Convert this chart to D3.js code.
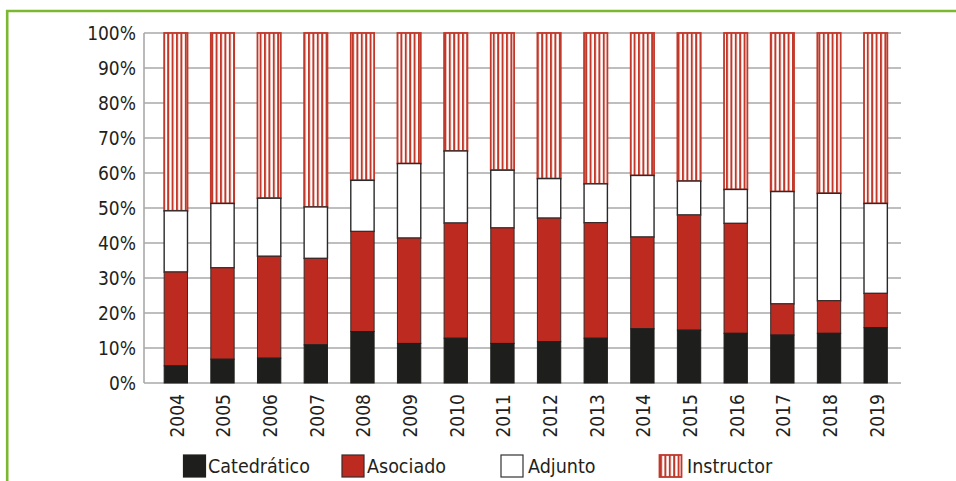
<!DOCTYPE html>
<html>
<head>
<meta charset="utf-8">
<script src="https://cdn.jsdelivr.net/npm/d3@7/dist/d3.min.js"></script>
<style>
  html, body { margin: 0; padding: 0; background: #fff; }
  svg { display: block; }
  text { font-family: "DejaVu Sans Condensed", "DejaVu Sans", sans-serif; fill: #231f20; }
</style>
</head>
<body>
<svg id="chart" width="956" height="481"></svg>
<script>
// Share of teaching staff by rank, per year (percent)
const years = ["2004","2005","2006","2007","2008","2009","2010","2011",
               "2012","2013","2014","2015","2016","2017","2018","2019"];
const catedratico = [4.9, 6.8, 7.1, 10.9, 14.7, 11.3, 12.8, 11.3, 11.8, 12.8, 15.5, 15.1, 14.2, 13.7, 14.2, 15.8];
const asociado    = [26.8, 26.1, 29.1, 24.7, 28.6, 30.1, 32.9, 33.0, 35.3, 33.0, 26.2, 32.9, 31.4, 8.9, 9.3, 9.8];
const adjunto     = [17.5, 18.4, 16.6, 14.7, 14.6, 21.3, 20.6, 16.5, 11.3, 11.1, 17.6, 9.7, 9.7, 32.1, 30.7, 25.7];
const instructor  = [50.8, 48.7, 47.2, 49.7, 42.1, 37.3, 33.7, 39.2, 41.6, 43.1, 40.7, 42.3, 44.7, 45.3, 45.8, 48.7];
const seriesNames = ["Catedrático", "Asociado", "Adjunto", "Instructor"];
const yTicks = [0, 10, 20, 30, 40, 50, 60, 70, 80, 90, 100];

const table = years.map((y, i) => ({
  year: y,
  "Catedrático": catedratico[i],
  "Asociado": asociado[i],
  "Adjunto": adjunto[i],
  "Instructor": instructor[i]
}));

const svg = d3.select("#chart");
const defs = svg.append("defs");

// vertical red stripes for the "Instructor" segment
const pat = defs.append("pattern")
  .attr("id", "stripes")
  .attr("patternUnits", "userSpaceOnUse")
  .attr("width", 4.4).attr("height", 10);
pat.append("rect").attr("width", 4.4).attr("height", 10).attr("fill", "#fff");
pat.append("rect").attr("x", 0).attr("width", 1.8).attr("height", 10).attr("fill", "#c0392b");
pat.append("rect").attr("x", 1.8).attr("width", 0.6).attr("height", 10).attr("fill", "#eab3ad");

// green frame on the top and left
svg.append("line").attr("x1", 6).attr("x2", 956).attr("y1", 11).attr("y2", 11)
  .attr("stroke", "#7cb82f").attr("stroke-width", 2.6);
svg.append("line").attr("x1", 7.2).attr("x2", 7.2).attr("y1", 10).attr("y2", 481)
  .attr("stroke", "#7cb82f").attr("stroke-width", 2.6);

const x = d3.scaleBand().domain(years).range([152.5, 899]).paddingInner(0.5).paddingOuter(0.25);
const y = d3.scaleLinear().domain([0, 100]).range([383, 33]);

// gridlines + y axis labels
const yAxis = d3.axisLeft(y).tickValues(yTicks).tickFormat(d => d + "%").tickSize(0).tickPadding(8);
const gY = svg.append("g").attr("transform", "translate(144,0)").call(yAxis);
gY.select(".domain").remove();
gY.selectAll("text").attr("font-size", 19).attr("font-family", "DejaVu Sans Condensed").attr("fill", "#231f20").attr("dy", "0.36em");

svg.append("g").selectAll("line").data(yTicks).join("line")
  .attr("x1", 144).attr("x2", 901)
  .attr("y1", d => y(d)).attr("y2", d => y(d))
  .attr("stroke", "#a9a9a9").attr("stroke-width", 1.6);
svg.append("line").attr("x1", 144).attr("x2", 144).attr("y1", y(100)).attr("y2", y(0))
  .attr("stroke", "#a9a9a9").attr("stroke-width", 1.6);

// stacked bars
const stack = d3.stack().keys(seriesNames)(table);
const fills = { "Catedrático": "#1e1e1c", "Asociado": "#bd2b20", "Adjunto": "#ffffff", "Instructor": "url(#stripes)" };
const strokes = { "Catedrático": "#1e1e1c", "Asociado": "#3a2a28", "Adjunto": "#2a2a2a", "Instructor": "#c0392b" };
const sw = { "Catedrático": 1, "Asociado": 1, "Adjunto": 1.4, "Instructor": 1.8 };

const drawOrder = ["Instructor", "Adjunto", "Asociado", "Catedrático"];
drawOrder.forEach(key => {
  const layer = stack.find(s => s.key === key);
  svg.append("g").selectAll("rect").data(layer).join("rect")
    .attr("x", d => x(d.data.year))
    .attr("width", x.bandwidth())
    .attr("y", d => y(d[1]))
    .attr("height", d => y(d[0]) - y(d[1]))
    .attr("fill", fills[key])
    .attr("stroke", strokes[key])
    .attr("stroke-width", sw[key]);
});

// x axis (rotated year labels)
const xAxis = d3.axisBottom(x).tickSize(0).tickPadding(0);
const gX = svg.append("g").attr("transform", "translate(0,383)").call(xAxis);
gX.select(".domain").remove();
gX.selectAll("text")
  .attr("font-size", 19).attr("font-family", "DejaVu Sans Condensed").attr("fill", "#231f20")
  .attr("transform", "rotate(-90)")
  .attr("text-anchor", "end")
  .attr("x", -11).attr("y", 1).attr("dy", "0.36em");

// legend
const legendItems = [
  { name: "Catedrático", sx: 183.5, tx: 208 },
  { name: "Asociado",    sx: 342,   tx: 367 },
  { name: "Adjunto",     sx: 501,   tx: 528 },
  { name: "Instructor",  sx: 659.5, tx: 687 }
];
const lg = svg.append("g");
legendItems.forEach(it => {
  lg.append("rect").attr("x", it.sx).attr("y", 455).attr("width", 22).attr("height", 22)
    .attr("fill", fills[it.name]).attr("stroke", it.name === "Adjunto" ? "#333" : strokes[it.name])
    .attr("stroke-width", it.name === "Instructor" ? 1.8 : 1.2);
  lg.append("text").attr("x", it.tx).attr("y", 466).attr("dy", "0.36em")
    .attr("font-size", 19.5).text(it.name);
});
</script>
</body>
</html>
